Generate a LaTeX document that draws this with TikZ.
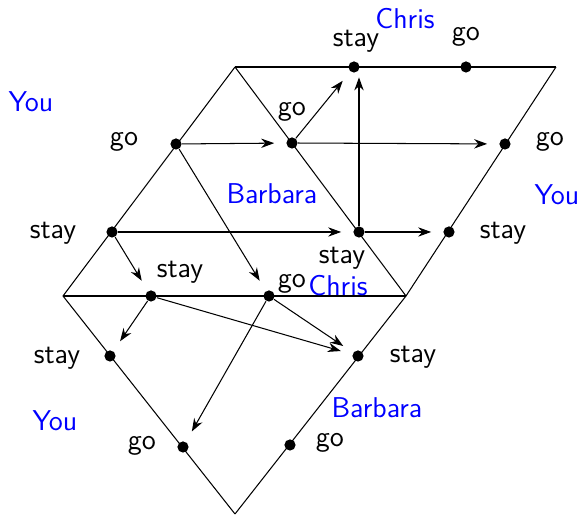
\documentclass[tikz,border=0pt]{standalone}
\usepackage{xcolor}
\usetikzlibrary{arrows.meta}

\begin{document}
\begin{tikzpicture}[
  x=0.0135cm, y=-0.0135cm,
  font=\sffamily\fontsize{11}{13}\selectfont,
  dot/.style={circle,fill=black,inner sep=0pt,minimum size=4.3pt},
  lbl/.style={inner sep=1pt},
  player/.style={inner sep=1pt,text=blue},
  arrow/.style={-{Stealth[length=5pt,width=3.6pt]},shorten >=4.5pt}
]
  \useasboundingbox (0,0) rectangle (581,516);

  % === corners of the game tree ===
  \coordinate (A) at (235,67);
  \coordinate (B) at (556,67);
  \coordinate (L) at (63,296);
  \coordinate (M) at (406,296);
  \coordinate (Bot) at (235,514);

  \draw (A) -- (B);
  \draw (A) -- (L);
  \draw (B) -- (M);
  \draw (L) -- (M);
  \draw (A) -- (M);
  \draw (L) -- (Bot);
  \draw (M) -- (Bot);

  % === strategy points ===
  \node[dot] (tstay) at (354,67) {};
  \node[dot] (tgo) at (466,67) {};
  \node[dot] (lgo) at (176,144) {};
  \node[dot] (lstay) at (112,232) {};
  \node[dot] (igo) at (292,143) {};
  \node[dot] (istay) at (359,232) {};
  \node[dot] (rgo) at (505,144) {};
  \node[dot] (rstay) at (449,232) {};
  \node[dot] (mstay) at (151,296) {};
  \node[dot] (mgo) at (269,296) {};
  \node[dot] (blstay) at (110,356) {};
  \node[dot] (blgo) at (183,447) {};
  \node[dot] (brstay) at (358,356) {};
  \node[dot] (brgo) at (290,445) {};

  % === labels ===
  \node[player] (chris1) at (405,19) {Chris};
  \node[lbl] (ltstay) at (356,41) {stay};
  \node[lbl] (ltgo) at (466,37) {go};
  \node[player] (you1) at (31,102) {You};
  \node[player] (you2) at (557,195) {You};
  \node[player] (you3) at (55,421) {You};
  \node[player] (barb1) at (272,194) {Barbara};
  \node[player] (barb2) at (377,408) {Barbara};
  \node[player] (chris2) at (338,286) {Chris};
  \node[lbl] (llgo) at (124,142) {go};
  \node[lbl] (llstay) at (53,233) {stay};
  \node[lbl] (ligo) at (292,112) {go};
  \node[lbl] (lrgo) at (550,142) {go};
  \node[lbl] (lrstay) at (503,233) {stay};
  \node[lbl] (listay) at (342,258) {stay};
  \node[lbl] (lmstay) at (180,272) {stay};
  \node[lbl] (lmgo) at (292,284) {go};
  \node[lbl] (lblstay) at (57,358) {stay};
  \node[lbl] (lblgo) at (142,446) {go};
  \node[lbl] (lbrstay) at (413,357) {stay};
  \node[lbl] (lbrgo) at (330,443) {go};

  % === best responses ===
  \draw[arrow] (lgo) -- (igo);
  \draw[arrow] (lgo) -- (mgo);
  \draw[arrow] (igo) -- (tstay);
  \draw[arrow] (igo) -- (rgo);
  \draw[arrow,shorten >=4pt] (istay) -- (istay |- tstay);
  \draw[arrow] (lstay) -- (istay);
  \draw[arrow] (lstay) -- (mstay);
  \draw[arrow] (istay) -- (rstay);
  \draw[arrow] (mstay) -- (blstay);
  \draw[arrow] (mstay) -- (brstay);
  \draw[arrow] (mgo) -- (brstay);
  \draw[arrow] (mgo) -- (blgo);
\end{tikzpicture}
\end{document}
